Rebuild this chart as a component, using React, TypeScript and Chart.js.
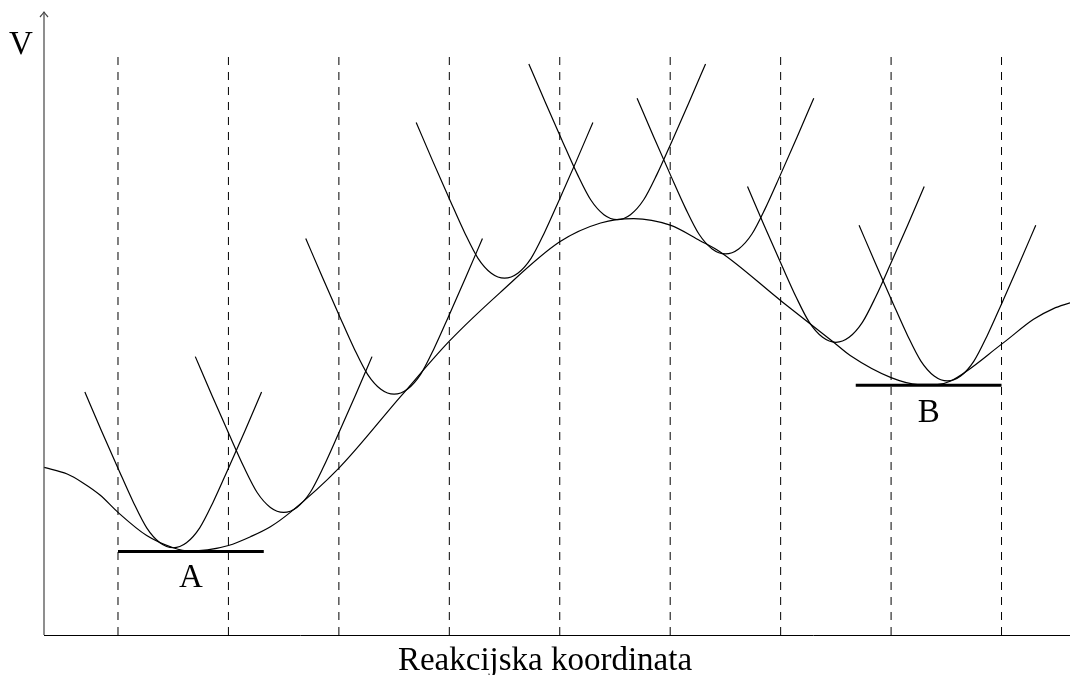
import React, { useEffect, useRef } from "react";
import { Chart, registerables } from "chart.js";

Chart.register(...registerables);

// Axis extents (units: one unit = spacing of the dashed lines)
const xMax = 9.29;
const yMax = 5.64;

// Main potential-energy curve
const curveX = [0, 0.21, 0.35, 0.51, 0.67, 0.93, 1.17, 1.32, 1.48, 1.67, 1.87, 2.05, 2.23, 2.67, 3.23, 3.67, 4.13, 4.67, 5.04, 5.34, 5.67, 5.94, 6.12, 6.68, 7.15, 7.3, 7.67, 7.91, 8.09, 8.21, 8.68, 8.96, 9.14, 9.29];
const curveY = [1.517, 1.457, 1.379, 1.265, 1.11, 0.9, 0.79, 0.76, 0.77, 0.81, 0.89, 0.98, 1.11, 1.51, 2.16, 2.66, 3.1, 3.56, 3.73, 3.77, 3.71, 3.57, 3.47, 3.02, 2.65, 2.53, 2.33, 2.27, 2.27, 2.3, 2.64, 2.858, 2.955, 3.007];

// Local wells: bottom positions and the common well profile
const wellX = [1.17, 2.17, 3.17, 4.17, 5.19, 6.17, 7.17, 8.18];
const wellY = [0.79, 1.11, 2.18, 3.23, 3.76, 3.45, 2.65, 2.3];
const wellDx = [-0.8, -0.65, -0.5, -0.36, -0.24, -0.12, 0, 0.12, 0.24, 0.36, 0.5, 0.65, 0.8];
const wellDy = [1.41, 1.06, 0.72, 0.41, 0.18, 0.045, 0, 0.045, 0.18, 0.41, 0.72, 1.06, 1.41];

// Dashed vertical separators
const dashX = [0.67, 1.67, 2.67, 3.67, 4.67, 5.67, 6.67, 7.67, 8.67];
const dashTop = 5.28;

// Thick level lines A and B
const levelNames = ["A", "B"];
const levelX0 = [0.67, 7.35];
const levelX1 = [1.99, 8.67];
const levelY = [0.755, 2.26];
const levelLabelX = [1.33, 8.01];
const levelLabelY = [0.435, 1.93];

const yTitle = "V";
const xTitle = "Reakcijska koordinata";

const FONT = '33px "Liberation Serif", "DejaVu Serif", serif';

const decorPlugin = {
  id: "decor",
  afterDatasetsDraw(chart: any) {
    const { ctx, chartArea, scales } = chart;
    const xs = scales.x;
    const ys = scales.y;
    const x0 = xs.getPixelForValue(0);
    const y0 = ys.getPixelForValue(0);
    ctx.save();
    // x axis
    ctx.strokeStyle = "#000";
    ctx.lineWidth = 1;
    ctx.beginPath();
    ctx.moveTo(x0, Math.round(y0) + 0.5);
    ctx.lineTo(chartArea.right, Math.round(y0) + 0.5);
    ctx.stroke();
    // y axis with arrow
    const topY = chartArea.top;
    ctx.strokeStyle = "#444";
    ctx.lineWidth = 1.2;
    ctx.beginPath();
    ctx.moveTo(x0, y0);
    ctx.lineTo(x0, topY);
    ctx.stroke();
    ctx.beginPath();
    ctx.moveTo(x0 - 4, topY + 5);
    ctx.quadraticCurveTo(x0 - 1, topY + 1.5, x0, topY);
    ctx.quadraticCurveTo(x0 + 1, topY + 1.5, x0 + 4, topY + 5);
    ctx.stroke();
    // texts
    ctx.fillStyle = "#000";
    ctx.font = FONT;
    ctx.textAlign = "center";
    ctx.textBaseline = "alphabetic";
    ctx.fillText(yTitle, x0 - 23, chartArea.top + 42);
    ctx.fillText(xTitle, 545, chartArea.bottom + 35);
    levelNames.forEach((n, i) => {
      ctx.fillText(n, xs.getPixelForValue(levelLabelX[i]), ys.getPixelForValue(levelLabelY[i]));
    });
    ctx.restore();
  },
};

export default function App() {
  const ref = useRef<HTMLCanvasElement>(null);
  useEffect(() => {
    const datasets: any[] = [];
    dashX.forEach((x) => {
      datasets.push({
        data: [{ x, y: 0 }, { x, y: dashTop }],
        borderColor: "#000",
        borderWidth: 1,
        borderDash: [8, 7],
        pointRadius: 0,
        clip: false,
      });
    });
    datasets.push({
      data: curveX.map((x, i) => ({ x, y: curveY[i] })),
      borderColor: "#000",
      borderWidth: 1.2,
      pointRadius: 0,
      cubicInterpolationMode: "monotone",
      clip: false,
    });
    wellX.forEach((cx, k) => {
      datasets.push({
        data: wellDx.map((dx, i) => ({ x: cx + dx, y: wellY[k] + wellDy[i] })),
        borderColor: "#000",
        borderWidth: 1.2,
        pointRadius: 0,
        cubicInterpolationMode: "monotone",
        clip: false,
      });
    });
    levelNames.forEach((_, i) => {
      datasets.push({
        data: [{ x: levelX0[i], y: levelY[i] }, { x: levelX1[i], y: levelY[i] }],
        borderColor: "#000",
        borderWidth: 3,
        pointRadius: 0,
        clip: false,
      });
    });
    const chart = new Chart(ref.current as HTMLCanvasElement, {
      type: "line",
      data: { datasets },
      options: {
        animation: false,
        responsive: false,
        maintainAspectRatio: false,
        events: [],
        layout: { padding: { left: 44, right: 0, top: 12, bottom: 40 } },
        plugins: { legend: { display: false }, tooltip: { enabled: false } },
        scales: {
          x: { type: "linear", min: 0, max: xMax, display: false },
          y: { type: "linear", min: 0, max: yMax, display: false },
        },
      },
      plugins: [decorPlugin],
    });
    return () => chart.destroy();
  }, []);
  return (
    <div style={{ position: "fixed", left: 0, top: 0, width: 1070, height: 675, background: "#fff" }}>
      <canvas ref={ref} width={1070} height={675} style={{ width: 1070, height: 675, display: "block" }} />
    </div>
  );
}
